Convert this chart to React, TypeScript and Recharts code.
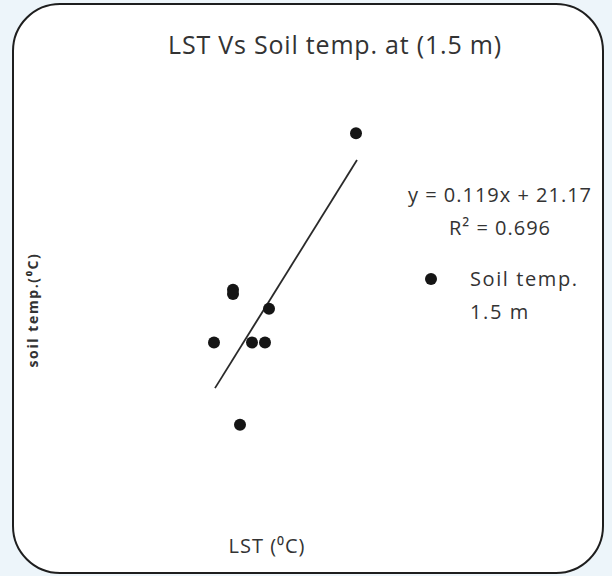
import { ScatterChart, Scatter, XAxis, YAxis, ReferenceLine } from 'recharts';

// LST (°C) vs soil temperature at 1.5 m (°C)
const lst = [34.2, 21.9, 21.9, 25.5, 20.0, 23.8, 25.1, 22.6];
const soilTemp = [25.45, 24.29, 24.26, 24.15, 23.9, 23.9, 23.9, 23.29];

// fitted line printed on the chart
const trendSlope = 0.119;
const trendIntercept = 21.17;
const trendX = [20.1, 34.3];

const data = lst.map((x, i) => ({ x, y: soilTemp[i] }));
const trend = trendX.map((x) => ({ x, y: trendSlope * x + trendIntercept }));

const font = '"Open Sans", "Liberation Sans", sans-serif';

function Dot(props: any) {
  return <circle cx={props.cx} cy={props.cy} r={6} fill="#151515" />;
}

export default function App() {
  return (
    <div style={{ position: 'absolute', left: 0, top: 0, width: 612, height: 576, background: '#edf5fa', fontFamily: font }}>
      <div
        style={{
          position: 'absolute',
          left: 12,
          top: 3,
          width: 588,
          height: 567,
          border: '2px solid #1e1e1e',
          borderRadius: 48,
          background: '#fff',
        }}
      />
      <div style={{ position: 'absolute', left: 0, top: 0 }}>
        <ScatterChart width={612} height={576} margin={{ top: 59, right: 48, bottom: 112, left: 64 }}>
          <XAxis type="number" dataKey="x" domain={[5, 55]} hide />
          <YAxis type="number" dataKey="y" domain={[23, 26]} hide />
          <ReferenceLine
            segment={[trend[0], trend[1]]}
            stroke="#2a2a2a"
            strokeWidth={1.8}
            ifOverflow="visible"
          />
          <Scatter data={data} shape={Dot} isAnimationActive={false} />
        </ScatterChart>
      </div>
      <div style={{ position: 'absolute', left: 0, width: 670, top: 27, textAlign: 'center', fontSize: 25, color: '#333', letterSpacing: 0.8 }}>
        LST Vs Soil temp. at (1.5 m)
      </div>
      <div style={{ position: 'absolute', left: 390, width: 220, top: 178, textAlign: 'center', fontSize: 20, color: '#333', lineHeight: '33px', letterSpacing: 1 }}>
        y = 0.119x + 21.17
        <br />
        R² = 0.696
      </div>
      <div style={{ position: 'absolute', left: 425, top: 273, width: 12, height: 12, borderRadius: 6, background: '#151515' }} />
      <div style={{ position: 'absolute', left: 470, top: 262, fontSize: 20, color: '#333', lineHeight: '33px', letterSpacing: 1.6 }}>
        Soil temp.
        <br />
        1.5 m
      </div>
      <div
        style={{
          position: 'absolute',
          left: 32,
          top: 310,
          transform: 'translate(-50%, -50%) rotate(-90deg)',
          whiteSpace: 'nowrap',
          fontSize: 14,
          fontWeight: 'bold',
          color: '#333',
          letterSpacing: 1.6,
        }}
      >
        soil temp.(⁰C)
      </div>
      <div style={{ position: 'absolute', left: 167, width: 200, top: 532, textAlign: 'center', fontSize: 20, color: '#333', letterSpacing: 1 }}>
        LST (⁰C)
      </div>
    </div>
  );
}
